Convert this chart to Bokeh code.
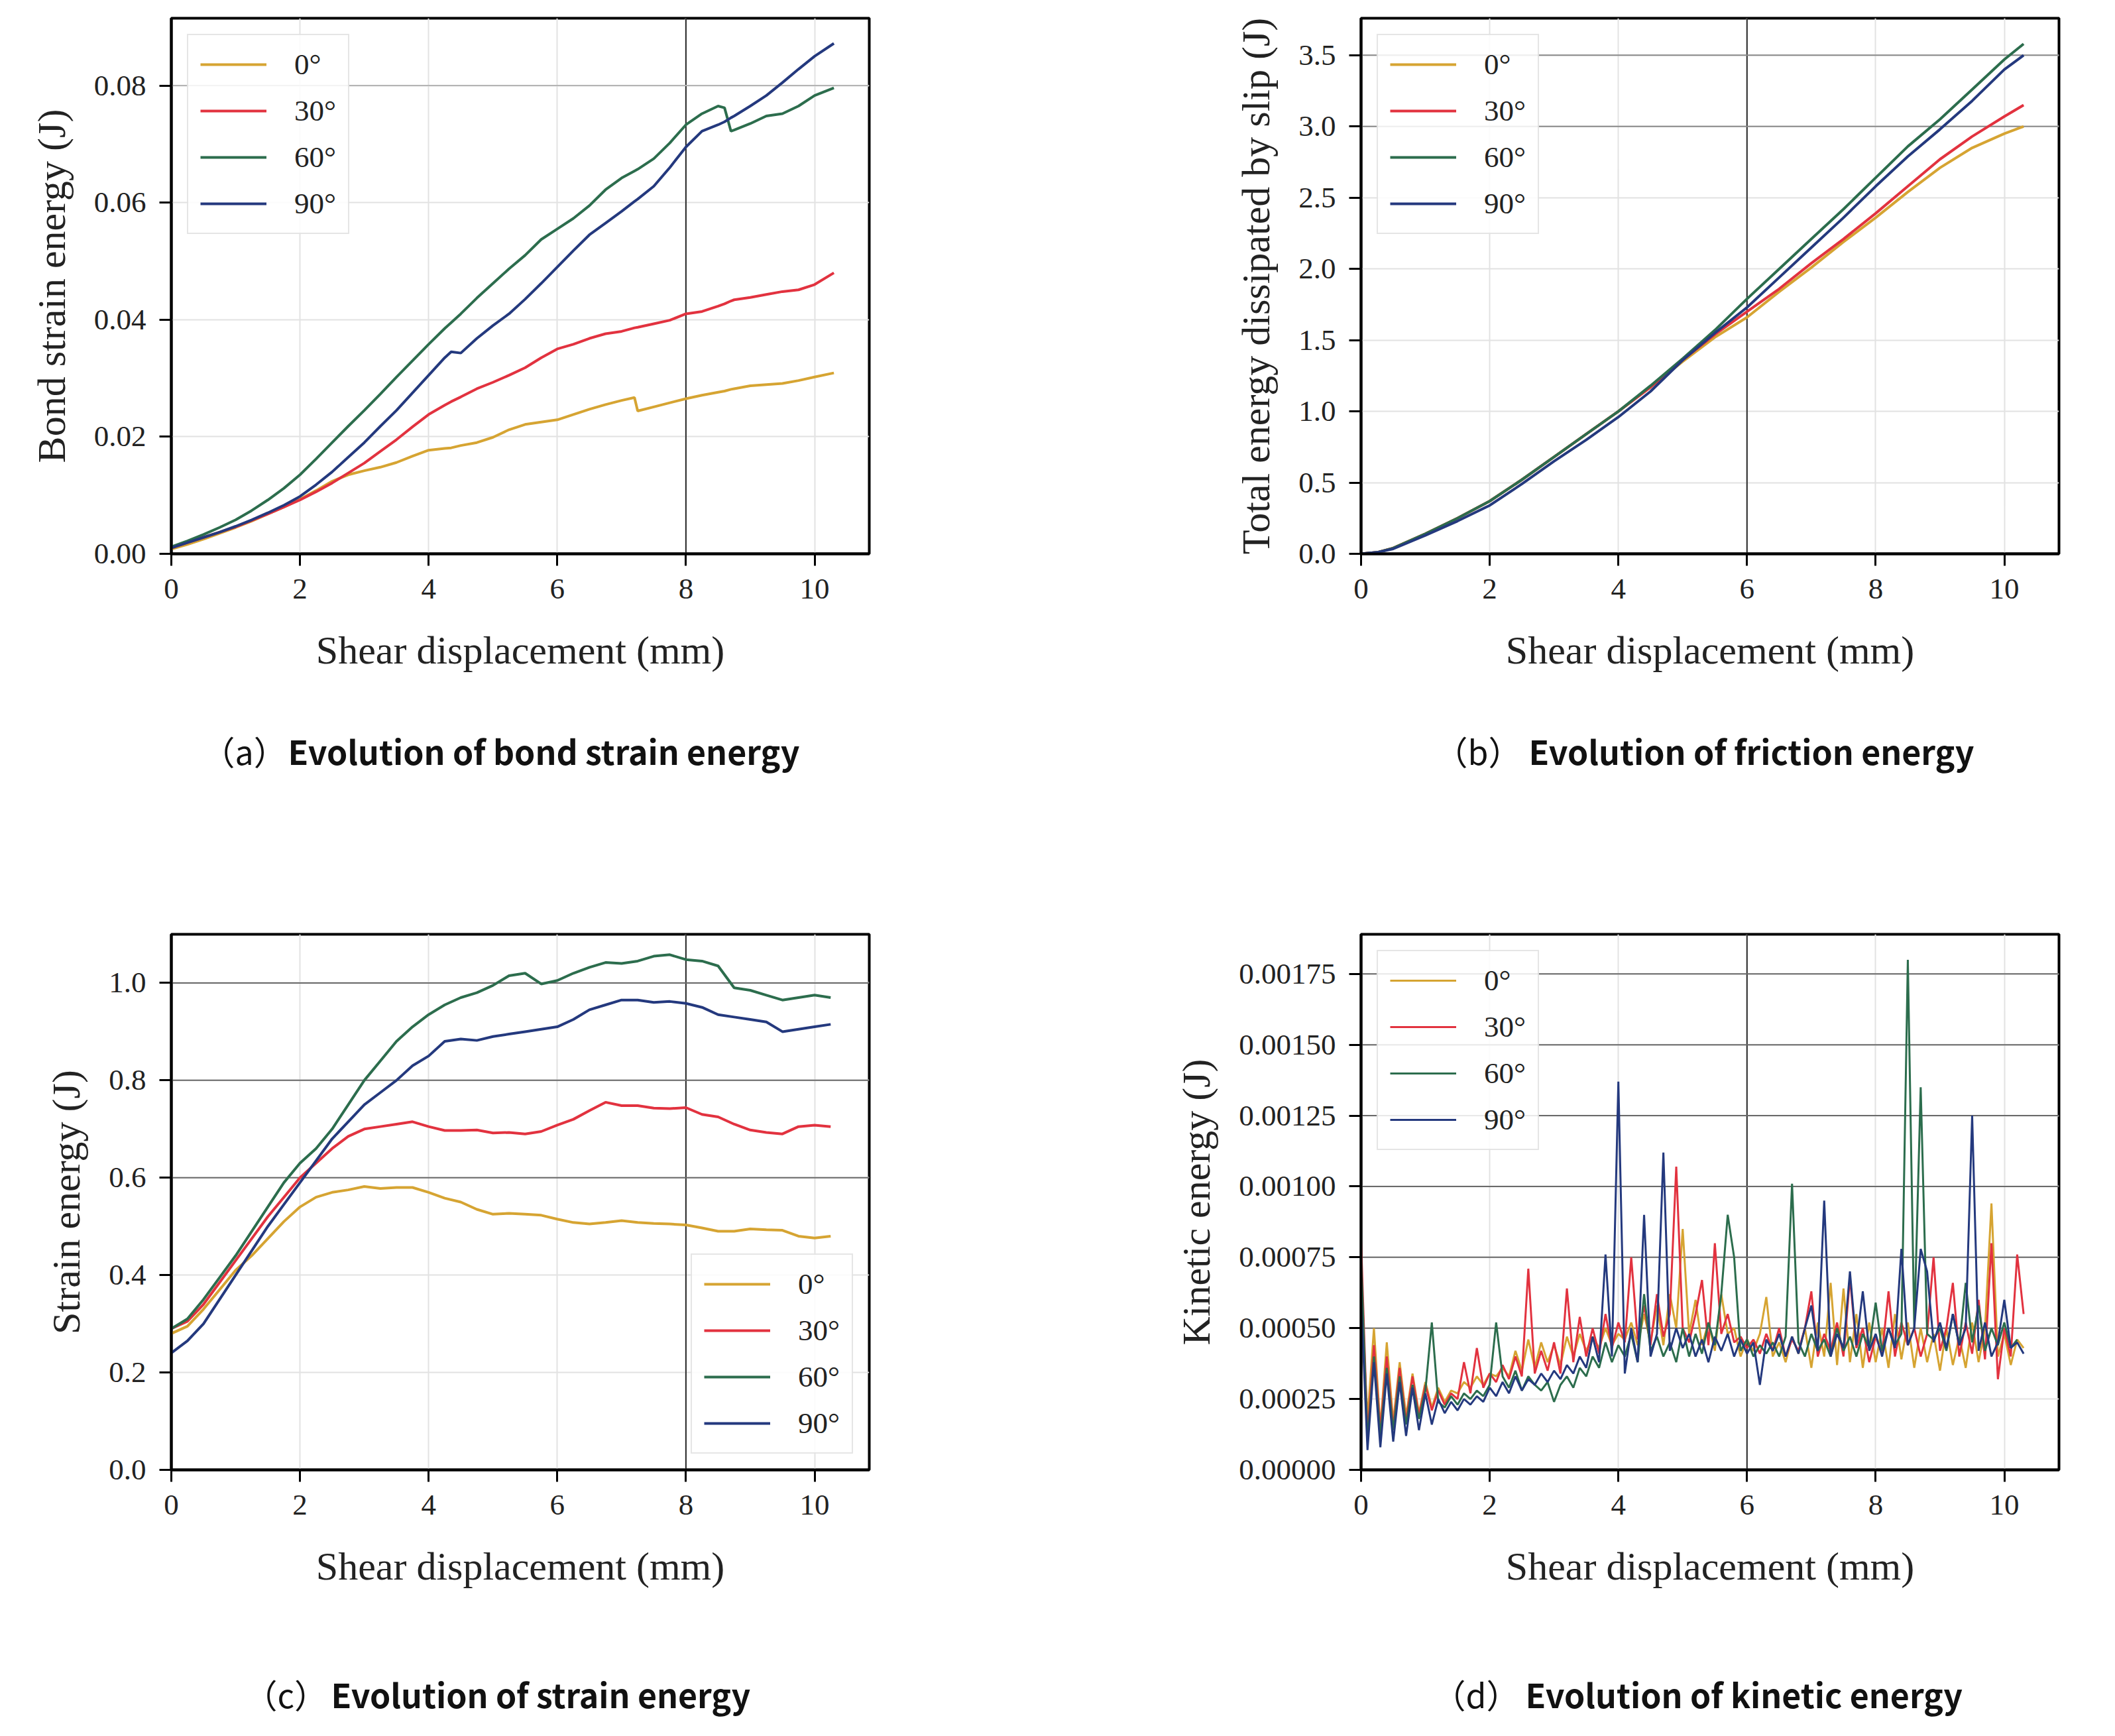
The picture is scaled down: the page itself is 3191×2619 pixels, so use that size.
#energy evolution panels (a)-(d)

from bokeh.plotting import figure
from bokeh.layouts import gridplot
from bokeh.models import (Legend, LegendItem, FixedTicker, PrintfTickFormatter,
                          Span, Label, Range1d)
from bokeh.embed import file_html
from bokeh.resources import INLINE

#series names and colours
angles = ["0°", "30°", "60°", "90°"]
colors = ["#d6a432", "#e2323f", "#2c6d4d", "#24397e"]

#(a) bond strain energy (J)
bond_x = [0, 0.25, 0.5, 0.75, 1, 1.25, 1.5, 1.75, 2, 2.25, 2.5, 2.75, 3, 3.25, 3.5, 3.75,
          4, 4.25, 4.35, 4.5, 4.75, 5, 5.25, 5.5, 5.75, 6, 6.25, 6.5, 6.75, 7, 7.2, 7.25,
          7.5, 7.75, 8, 8.25, 8.5, 8.6, 8.7, 8.75, 9, 9.25, 9.5, 9.75, 10, 10.3]
bond_0 = [0.0008, 0.0016, 0.0025, 0.0035, 0.0045, 0.0056, 0.0068, 0.008, 0.0093, 0.0108,
          0.0124, 0.0135, 0.0142, 0.0148, 0.0156, 0.0167, 0.0177, 0.018, 0.0181, 0.0185,
          0.019, 0.0199, 0.0212, 0.0221, 0.0225, 0.0229, 0.0238, 0.0247, 0.0255, 0.0262,
          0.0267, 0.0244, 0.0251, 0.0258, 0.0265, 0.0271, 0.0276, 0.0278, 0.0281, 0.0282,
          0.0287, 0.0289, 0.0291, 0.0296, 0.0302, 0.0309]
bond_30 = [0.001, 0.0019, 0.0028, 0.0037, 0.0046, 0.0057, 0.0068, 0.008, 0.0092, 0.0106,
           0.0121, 0.0138, 0.0155, 0.0175, 0.0195, 0.0217, 0.0238, 0.0254, 0.026, 0.0268,
           0.0282, 0.0293, 0.0305, 0.0318, 0.0335, 0.035, 0.0358, 0.0368, 0.0376, 0.038,
           0.0386, 0.0387, 0.0393, 0.0399, 0.041, 0.0414, 0.0423, 0.0427, 0.0432, 0.0434,
           0.0438, 0.0443, 0.0448, 0.0451, 0.046, 0.048]
bond_60 = [0.0012, 0.0022, 0.0033, 0.0045, 0.0058, 0.0074, 0.0092, 0.0112, 0.0135, 0.0162,
           0.019, 0.0218, 0.0245, 0.0273, 0.0302, 0.033, 0.0358, 0.0385, 0.0395, 0.041,
           0.0437, 0.0462, 0.0487, 0.051, 0.0537, 0.0555, 0.0573, 0.0595, 0.0622, 0.0642,
           0.0654, 0.0657, 0.0675, 0.0702, 0.0733, 0.0752, 0.0765, 0.0762, 0.0722, 0.0724,
           0.0735, 0.0748, 0.0752, 0.0765, 0.0783, 0.0796]
bond_90 = [0.001, 0.0019, 0.0028, 0.0037, 0.0047, 0.0058, 0.007, 0.0083, 0.0098, 0.0118,
           0.014, 0.0165, 0.019, 0.0218, 0.0245, 0.0275, 0.0305, 0.0335, 0.0345, 0.0343,
           0.0368, 0.039, 0.041, 0.0435, 0.0462, 0.049, 0.0518, 0.0545, 0.0565, 0.0585,
           0.0602, 0.0606, 0.0628, 0.066, 0.0695, 0.0722, 0.0733, 0.0738, 0.0745, 0.0748,
           0.0765, 0.0783, 0.0805, 0.0828, 0.085, 0.0872]

#(b) total energy dissipated by slip (J)
slip_x = [0, 0.25, 0.5, 1, 1.5, 2, 2.5, 3, 3.5, 4, 4.5, 5, 5.5, 6, 6.5, 7, 7.5, 8, 8.5, 9,
          9.5, 10, 10.3]
slip_0 = [0, 0.01, 0.04, 0.14, 0.25, 0.37, 0.52, 0.68, 0.84, 1.0, 1.17, 1.35, 1.52, 1.66,
          1.84, 2.01, 2.19, 2.36, 2.54, 2.71, 2.85, 2.95, 3.0]
slip_30 = [0, 0.01, 0.04, 0.14, 0.25, 0.37, 0.52, 0.68, 0.84, 1.0, 1.17, 1.36, 1.54, 1.7,
           1.86, 2.04, 2.21, 2.39, 2.58, 2.77, 2.93, 3.07, 3.15]
slip_60 = [0, 0.01, 0.04, 0.14, 0.25, 0.37, 0.52, 0.68, 0.84, 1.0, 1.18, 1.37, 1.57, 1.79,
           2.0, 2.21, 2.42, 2.64, 2.86, 3.05, 3.26, 3.47, 3.58]
slip_90 = [0, 0.01, 0.035, 0.13, 0.23, 0.34, 0.49, 0.65, 0.8, 0.96, 1.14, 1.36, 1.55, 1.73,
           1.94, 2.15, 2.36, 2.58, 2.79, 2.98, 3.18, 3.4, 3.5]

#(c) strain energy (J)
strain_x = [0, 0.25, 0.5, 0.75, 1, 1.25, 1.5, 1.75, 2, 2.25, 2.5, 2.75, 3, 3.25, 3.5, 3.75,
            4, 4.25, 4.5, 4.75, 5, 5.25, 5.5, 5.75, 6, 6.25, 6.5, 6.75, 7, 7.25, 7.5, 7.75,
            8, 8.25, 8.5, 8.75, 9, 9.25, 9.5, 9.75, 10, 10.25]
strain_0 = [0.28, 0.295, 0.33, 0.37, 0.41, 0.44, 0.475, 0.51, 0.54, 0.56, 0.57, 0.575, 0.582,
            0.578, 0.58, 0.58, 0.57, 0.558, 0.55, 0.535, 0.525, 0.527, 0.525, 0.523, 0.515,
            0.508, 0.505, 0.508, 0.512, 0.508, 0.506, 0.505, 0.503, 0.497, 0.49, 0.49, 0.495,
            0.493, 0.492, 0.48, 0.476, 0.48]
strain_30 = [0.29, 0.305, 0.34, 0.385, 0.43, 0.475, 0.52, 0.56, 0.6, 0.63, 0.66, 0.685, 0.7,
             0.705, 0.71, 0.715, 0.705, 0.697, 0.697, 0.698, 0.692, 0.693, 0.69, 0.695, 0.708,
             0.72, 0.738, 0.755, 0.748, 0.748, 0.743, 0.742, 0.744, 0.73, 0.725, 0.71, 0.698,
             0.693, 0.69, 0.705, 0.708, 0.705]
strain_60 = [0.29, 0.31, 0.35, 0.395, 0.44, 0.49, 0.54, 0.59, 0.63, 0.66, 0.7, 0.75, 0.8,
             0.84, 0.88, 0.91, 0.935, 0.955, 0.97, 0.98, 0.995, 1.015, 1.02, 0.998, 1.005,
             1.02, 1.032, 1.042, 1.04, 1.045, 1.055, 1.058, 1.048, 1.045, 1.035, 0.99, 0.985,
             0.975, 0.965, 0.97, 0.975, 0.97]
strain_90 = [0.24, 0.265, 0.3, 0.35, 0.4, 0.45, 0.5, 0.545, 0.59, 0.635, 0.68, 0.715, 0.75,
             0.775, 0.8, 0.83, 0.85, 0.88, 0.885, 0.882, 0.89, 0.895, 0.9, 0.905, 0.91, 0.925,
             0.945, 0.955, 0.965, 0.965, 0.96, 0.962, 0.958, 0.95, 0.935, 0.93, 0.925, 0.92,
             0.9, 0.905, 0.91, 0.915]

#(d) kinetic energy, in 1e-5 J, sampled every 0.1 mm
kin_0 = [62, 18, 50, 15, 45, 17, 38, 19, 34, 20,
         31, 22, 29, 24, 28, 27, 31, 29, 33, 30,
         34, 33, 36, 33, 42, 35, 46, 36, 45, 38,
         44, 37, 47, 40, 48, 42, 47, 43, 50, 44,
         48, 46, 52, 44, 55, 45, 58, 44, 62, 50,
         85, 48, 60, 44, 52, 42, 62, 48, 50, 40,
         46, 42, 48, 61, 40, 45, 38, 47, 41, 50,
         36, 52, 40, 66, 37, 64, 38, 55, 36, 52,
         38, 50, 36, 55, 39, 52, 36, 50, 38, 48,
         35, 50, 37, 47, 36, 52, 38, 50, 94, 40,
         48, 37, 46, 43]
kin_30 = [81, 12, 44, 14, 40, 15, 36, 17, 33, 19,
          30, 21, 28, 23, 27, 25, 38, 27, 43, 29,
          34, 31, 37, 32, 40, 33, 71, 34, 42, 35,
          45, 34, 64, 38, 54, 40, 50, 41, 55, 43,
          52, 45, 75, 46, 58, 44, 62, 47, 55, 107,
          50, 45, 55, 67, 44, 80, 48, 55, 45, 47,
          43, 46, 41, 48, 42, 50, 40, 46, 42, 50,
          63, 40, 48, 42, 52, 40, 68, 43, 50, 38,
          47, 41, 63, 40, 52, 44, 50, 40, 48, 75,
          42, 50, 66, 40, 52, 41, 60, 39, 80, 32,
          50, 40, 76, 55]
kin_60 = [75, 10, 40, 12, 36, 14, 33, 16, 30, 18,
          28, 52, 24, 22, 26, 23, 27, 25, 28, 26,
          30, 52, 33, 29, 35, 28, 33, 30, 28, 31,
          24, 30, 33, 29, 36, 33, 40, 36, 45, 38,
          44, 40, 48, 38, 62, 42, 47, 40, 45, 38,
          50, 40, 48, 41, 52, 44, 62, 90, 75, 42,
          46, 40, 44, 41, 45, 40, 47, 101, 45, 40,
          48, 42, 46, 40, 50, 42, 47, 40, 48, 43,
          59, 42, 50, 44, 48, 180, 50, 135, 48, 46,
          50, 42, 55, 44, 66, 45, 58, 42, 50, 44,
          52, 43, 46]
kin_90 = [60, 7, 38, 8, 34, 10, 31, 12, 29, 14,
          27, 16, 25, 20, 24, 21, 25, 23, 26, 24,
          29, 26, 31, 27, 33, 28, 32, 30, 34, 31,
          35, 32, 37, 34, 40, 36, 47, 38, 76, 40,
          137, 34, 50, 38, 90, 40, 48, 112, 42, 50,
          43, 48, 40, 46, 38, 47, 42, 48, 40, 46,
          41, 45, 30, 46, 42, 48, 40, 47, 41, 50,
          58, 42, 95, 40, 48, 43, 70, 44, 63, 42,
          48, 40, 50, 43, 78, 44, 50, 78, 70, 45,
          52, 43, 55, 44, 50, 125, 42, 52, 40, 45,
          60, 43, 45, 41]

SERIF = "Liberation Serif"
CAP_FONT = "Noto Sans CJK SC"


def panel(xs, ys, ylim, yticks, yfmt, ylabel, legend_loc,
          dark_x, dark_y, dark_y_color, borders, lw=4):
    left, right, top, bottom = borders
    p = figure(frame_width=1053, frame_height=808,
               x_range=Range1d(0, 10.85), y_range=Range1d(*ylim),
               output_backend="svg", toolbar_location=None,
               min_border_left=left, min_border_right=right,
               min_border_top=top, min_border_bottom=bottom)
    p.outline_line_color = "black"
    p.outline_line_width = 4

    #grid
    p.xgrid.grid_line_color = "#e2e2e2"
    p.ygrid.grid_line_color = "#e2e2e2"
    p.xgrid.grid_line_width = 2
    p.ygrid.grid_line_width = 2
    for v in dark_x:
        p.add_layout(Span(location=v, dimension="height", line_color="#2a2a2a",
                          line_width=2, level="underlay"))
    for v in dark_y:
        p.add_layout(Span(location=v, dimension="width", line_color=dark_y_color,
                          line_width=2, level="underlay"))

    #axes
    p.xaxis.ticker = FixedTicker(ticks=[0, 2, 4, 6, 8, 10])
    p.yaxis.ticker = FixedTicker(ticks=yticks)
    p.yaxis.formatter = PrintfTickFormatter(format=yfmt)
    p.xaxis.axis_label = "Shear displacement (mm)"
    p.yaxis.axis_label = ylabel
    for ax in (p.xaxis, p.yaxis):
        ax.axis_label_text_font = SERIF
        ax.axis_label_text_font_size = "60px"
        ax.axis_label_text_font_style = "normal"
        ax.axis_label_text_color = "#222222"
        ax.major_label_text_font = SERIF
        ax.major_label_text_font_size = "45px"
        ax.major_label_text_color = "#222222"
        ax.minor_tick_line_color = None
        ax.major_tick_in = 0
        ax.major_tick_out = 18
        ax.major_tick_line_width = 3
        ax.major_tick_line_color = "black"
        ax.axis_line_width = 4
        ax.axis_line_color = "black"
        ax.major_label_standoff = 20
    p.xaxis.axis_label_standoff = 42
    p.yaxis.axis_label_standoff = 28

    #lines
    items = []
    for y, c, a in zip(ys, colors, angles):
        r = p.line(xs[:len(y)], y, line_color=c, line_width=lw)
        items.append(LegendItem(label=a, renderers=[r]))

    legend = Legend(items=items, location=legend_loc)
    legend.label_text_font = SERIF
    legend.label_text_font_size = "45px"
    legend.label_text_color = "#222222"
    legend.glyph_width = 100
    legend.glyph_height = 40
    legend.label_height = 40
    legend.label_standoff = 42
    legend.spacing = 18
    legend.padding = 18
    legend.margin = 24
    legend.border_line_color = "#cccccc"
    legend.border_line_width = 2
    legend.background_fill_alpha = 0.85
    p.add_layout(legend)
    return p


def caption_row(borders, height, tag_x, text_x, y, tag, caption):
    #same frame as the panel above, so the caption lines up under it
    left, right = borders
    c = figure(frame_width=1053, frame_height=height, x_range=Range1d(0, 1053),
               y_range=Range1d(0, height), output_backend="svg", toolbar_location=None,
               x_axis_location=None, y_axis_location=None,
               min_border_left=left, min_border_right=right,
               min_border_top=0, min_border_bottom=0)
    c.outline_line_color = None
    c.xgrid.visible = False
    c.ygrid.visible = False
    c.add_layout(Label(x=tag_x, y=y, text=tag, text_font=CAP_FONT, text_font_size="50px",
                       text_baseline="middle", text_color="#111111"))
    c.add_layout(Label(x=text_x, y=y, text=caption, text_font=CAP_FONT,
                       text_font_size="50px", text_font_style="bold",
                       text_baseline="middle", text_color="#111111"))
    return c


kin_x = [i / 10 for i in range(len(kin_0))]

pa = panel(bond_x, [bond_0, bond_30, bond_60, bond_90], (0, 0.0915),
           [0, 0.02, 0.04, 0.06, 0.08], "%.2f", "Bond strain energy (J)", "top_left",
           [8], [0.08], "#b5b5b5", (258, 281, 27, 237))
pb = panel(slip_x, [slip_0, slip_30, slip_60, slip_90], (0, 3.76),
           [0, 0.5, 1, 1.5, 2, 2.5, 3, 3.5], "%.1f", "Total energy dissipated by slip (J)",
           "top_left", [6], [3.0, 3.5], "#8a8a8a", (461, 60, 27, 237))
pc = panel(strain_x, [strain_0, strain_30, strain_60, strain_90], (0, 1.1),
           [0, 0.2, 0.4, 0.6, 0.8, 1.0], "%.1f", "Strain energy (J)", "bottom_right",
           [8], [0.6, 0.8, 1.0], "#6a6a6a", (258, 281, 217, 275))
pd_ = panel(kin_x, [[v * 1e-5 for v in kin_0], [v * 1e-5 for v in kin_30],
                    [v * 1e-5 for v in kin_60], [v * 1e-5 for v in kin_90]],
            (0, 0.00189),
            [0, 0.00025, 0.0005, 0.00075, 0.001, 0.00125, 0.0015, 0.00175], "%.5f",
            "Kinetic energy (J)", "top_left",
            [6], [0.0005, 0.00075, 0.001, 0.00125, 0.0015, 0.00175], "#6a6a6a",
            (461, 60, 217, 275), lw=3)

ca = caption_row((258, 281), 120, 46, 176, 61, "（a）", "Evolution of bond strain energy")
cb = caption_row((461, 60), 120, 111, 253, 61, "（b）", "Evolution of friction energy")
cc = caption_row((258, 281), 110, 110, 241, 48, "（c）", "Evolution of strain energy")
cd = caption_row((461, 60), 110, 108, 248, 48, "（d）", "Evolution of kinetic energy")

grid = gridplot([[pa, pb], [ca, cb], [pc, pd_], [cc, cd]], toolbar_location=None)

open("out.html", "w").write(file_html(grid, INLINE))
